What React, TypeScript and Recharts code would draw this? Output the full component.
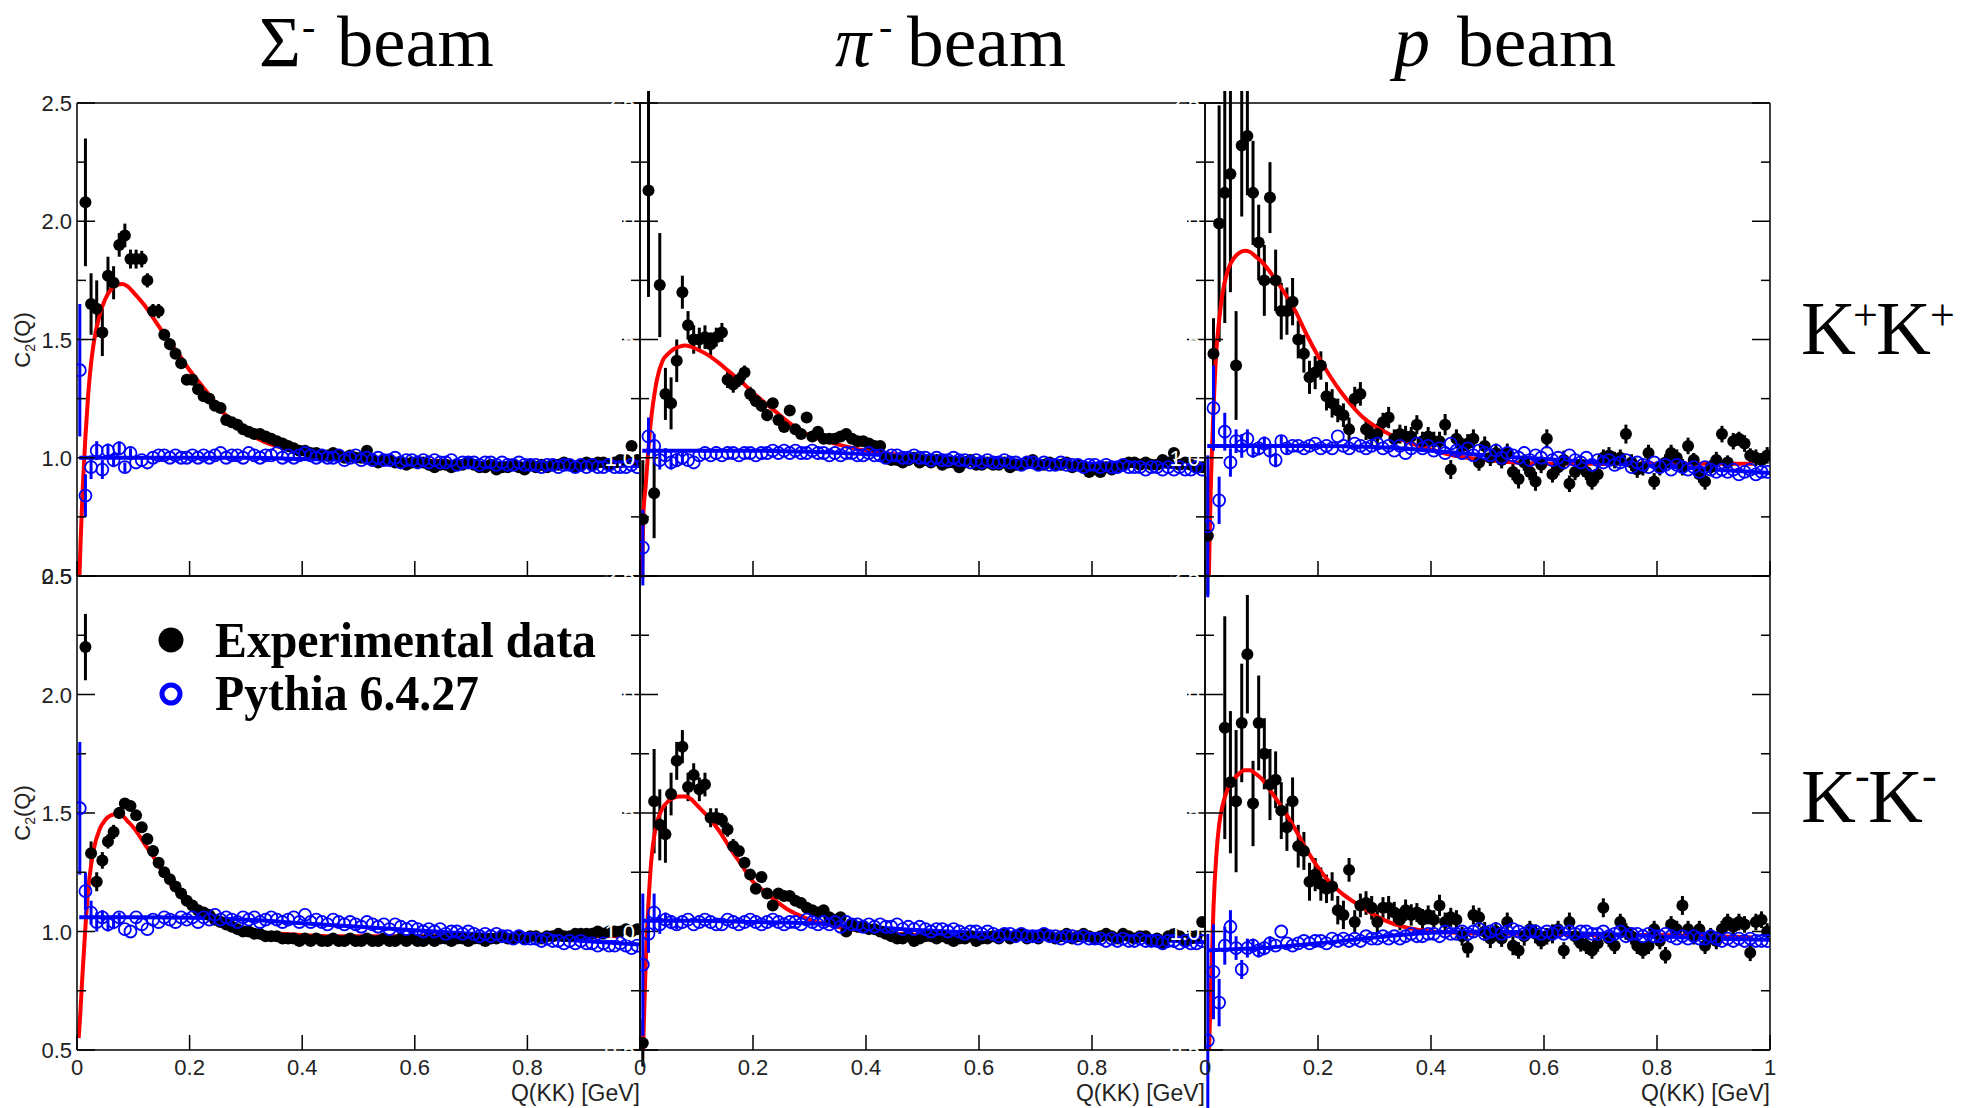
import React from "react";
import { ComposedChart, Scatter, Line, XAxis, YAxis, ErrorBar } from "recharts";

// centres of the 0.01 GeV bins
const BIN_Q = Array.from({ length: 100 }, (_, i) => (5 + 10 * i) / 1000);

const X_MAJOR = [0, 0.2, 0.4, 0.6, 0.8, 1];
const X_MINOR = [0.1, 0.3, 0.5, 0.7, 0.9];
const Y_MAJOR = [0.5, 1, 1.5, 2, 2.5];
const Y_MINOR = [0.75, 1.25, 1.75, 2.25];

// q values where the fitted curves were read
const FIT_Q = [0.003, 0.006, 0.01, 0.015, 0.02, 0.025, 0.03, 0.04, 0.05, 0.06, 0.07, 0.08, 0.09, 0.1, 0.12, 0.14, 0.16, 0.18, 0.2, 0.22, 0.24, 0.26, 0.28, 0.3, 0.33, 0.36, 0.4, 0.45, 0.5, 0.6, 0.7, 0.8, 0.9, 0.97];
const PYFIT_Q = [0.004, 0.05, 0.1, 0.2, 0.3, 0.4, 0.5, 0.6, 0.7, 0.8, 0.9, 1.0];

// ---- Sigma- beam, K+K+
const SIG_PP_DATA = [
  null, 2.08, 1.65, 1.63, 1.53, 1.77, 1.74, 1.90, 1.94, 1.84,
  1.84, 1.84, 1.75, 1.62, 1.62, 1.52, 1.48, 1.44, 1.40, 1.33,
  1.33, 1.29, 1.26, 1.25, 1.22, 1.21, 1.16, 1.15, 1.14, 1.12,
  1.11, 1.10, 1.10, 1.09, 1.08, 1.07, 1.06, 1.05, 1.04, 1.03,
  1.03, 1.02, 1.02, 1.01, 1.01, 1.02, 1.01, 1.00, 1.01, 1.00,
  1.00, 1.03, 0.99, 0.98, 0.99, 0.99, 0.98, 0.98, 0.97, 0.98,
  0.98, 0.98, 0.97, 0.96, 0.97, 0.97, 0.96, 0.97, 0.97, 0.98,
  0.97, 0.96, 0.96, 0.97, 0.95, 0.96, 0.96, 0.97, 0.96, 0.95,
  0.97, 0.96, 0.97, 0.96, 0.97, 0.97, 0.98, 0.97, 0.96, 0.97,
  0.98, 0.97, 0.98, 0.98, 0.97, 0.98, 0.99, 0.99, 1.05, 0.99,
];
const SIG_PP_DATA_ERR = [0, 0.27, 0.13, 0.12, 0.10, 0.08, 0.07, 0.05, 0.05, 0.04, 0.04, 0.035, 0.03, 0.03, 0.03, 0.025, 0.025, 0.02, 0.02, 0.02];
const SIG_PP_PYTHIA = [
  1.37, 0.84, 0.96, 1.03, 0.95, 1.03, 0.99, 1.04, 0.96, 1.02,
  0.98, 0.99, 0.98, 1.00, 1.01, 1.01, 1.00, 1.01, 1.00, 1.00,
  1.01, 1.00, 1.01, 1.00, 1.01, 1.02, 1.00, 1.01, 1.01, 1.00,
  1.02, 1.01, 1.00, 1.01, 1.01, 1.02, 1.00, 1.01, 1.00, 1.01,
  1.02, 1.01, 1.00, 1.01, 1.00, 1.00, 1.01, 0.99, 1.00, 1.01,
  0.99, 1.00, 0.99, 1.00, 0.99, 0.99, 1.00, 0.98, 0.99, 0.99,
  0.98, 0.99, 0.98, 0.99, 0.98, 0.98, 0.99, 0.97, 0.98, 0.98,
  0.98, 0.97, 0.98, 0.98, 0.97, 0.98, 0.97, 0.97, 0.98, 0.97,
  0.97, 0.97, 0.96, 0.97, 0.97, 0.96, 0.97, 0.97, 0.96, 0.97,
  0.96, 0.97, 0.96, 0.96, 0.97, 0.96, 0.96, 0.96, 0.97, 0.96,
];
const SIG_PP_PYTHIA_ERR = [0.28, 0.09, 0.05, 0.04, 0.04, 0.03, 0.03, 0.03, 0.02, 0.02];
const SIG_PP_FIT = [0.40, 0.62, 0.86, 1.09, 1.27, 1.40, 1.49, 1.60, 1.67, 1.71, 1.73, 1.735, 1.725, 1.70, 1.645, 1.575, 1.505, 1.44, 1.37, 1.31, 1.25, 1.19, 1.15, 1.11, 1.07, 1.045, 1.025, 1.01, 1.0, 0.99, 0.98, 0.975, 0.97, 0.965];
const SIG_PP_PYFIT = [1.0, 1.0, 1.0, 1.0, 1.0, 0.995, 0.99, 0.985, 0.98, 0.975, 0.97, 0.965];

// ---- pi- beam, K+K+
const PI_PP_DATA = [
  0.74, 2.13, 0.85, 1.73, 1.27, 1.23, 1.41, 1.70, 1.56, 1.50,
  1.50, 1.51, 1.48, 1.51, 1.53, 1.33, 1.31, 1.33, 1.36, 1.27,
  1.24, 1.22, 1.18, 1.23, 1.16, 1.13, 1.20, 1.12, 1.10, 1.17,
  1.09, 1.11, 1.08, 1.08, 1.08, 1.09, 1.10, 1.08, 1.07, 1.07,
  1.06, 1.05, 1.05, 1.00, 0.99, 0.99, 0.98, 0.99, 1.00, 0.98,
  0.99, 0.98, 0.99, 0.97, 0.98, 0.98, 0.96, 0.98, 0.99, 0.97,
  0.97, 0.98, 0.97, 0.97, 0.98, 0.96, 0.97, 0.97, 0.98, 0.99,
  0.97, 0.97, 0.98, 0.97, 0.97, 0.98, 0.96, 0.97, 0.96, 0.94,
  0.95, 0.94, 0.96, 0.95, 0.96, 0.97, 0.98, 0.98, 0.97, 0.98,
  0.97, 0.97, 0.99, 0.98, 1.02, 0.97, 0.98, 0.97, 0.96, 0.96,
];
const PI_PP_DATA_ERR = [0.25, 0.45, 0.19, 0.22, 0.11, 0.11, 0.09, 0.07, 0.06, 0.06, 0.05, 0.05, 0.05, 0.04, 0.04, 0.035, 0.035, 0.03, 0.03, 0.03, 0.025, 0.025, 0.025];
const PI_PP_PYTHIA = [
  0.62, 1.09, 1.05, 0.99, 1.01, 0.98, 0.99, 1.00, 0.99, 0.98,
  1.01, 1.02, 1.01, 1.02, 1.01, 1.02, 1.02, 1.01, 1.02, 1.02,
  1.01, 1.02, 1.02, 1.03, 1.02, 1.03, 1.02, 1.03, 1.02, 1.02,
  1.03, 1.02, 1.02, 1.01, 1.02, 1.01, 1.02, 1.02, 1.01, 1.01,
  1.02, 1.01, 1.01, 1.00, 1.01, 1.01, 1.00, 1.00, 1.01, 1.00,
  1.00, 0.99, 1.00, 0.99, 0.99, 1.00, 0.99, 0.99, 0.98, 0.99,
  0.98, 0.99, 0.98, 0.98, 0.99, 0.98, 0.98, 0.97, 0.98, 0.98,
  0.97, 0.98, 0.97, 0.97, 0.98, 0.97, 0.97, 0.97, 0.96, 0.97,
  0.97, 0.96, 0.97, 0.96, 0.96, 0.97, 0.96, 0.96, 0.96, 0.95,
  0.96, 0.96, 0.95, 0.96, 0.95, 0.96, 0.95, 0.95, 0.96, 0.95,
];
const PI_PP_PYTHIA_ERR = [0.16, 0.08, 0.05, 0.04, 0.03, 0.03, 0.03, 0.02];
const PI_PP_FIT = [0.45, 0.76, 0.88, 1.04, 1.17, 1.26, 1.33, 1.41, 1.44, 1.46, 1.47, 1.475, 1.47, 1.46, 1.435, 1.40, 1.36, 1.32, 1.275, 1.235, 1.195, 1.155, 1.12, 1.095, 1.07, 1.05, 1.03, 1.015, 1.005, 0.99, 0.98, 0.975, 0.97, 0.965];
const PI_PP_PYFIT = [1.03, 1.03, 1.03, 1.03, 1.025, 1.015, 1.005, 0.995, 0.985, 0.975, 0.965, 0.955];

// ---- p beam, K+K+
const P_PP_DATA = [
  0.67, 1.44, 1.99, 2.12, 2.20, 1.39, 2.32, 2.36, 2.12, 1.91,
  1.75, 2.10, 1.75, 1.62, 1.62, 1.66, 1.50, 1.44, 1.34, 1.36,
  1.39, 1.26, 1.23, 1.20, 1.18, 1.12, 1.25, 1.27, 1.12, 1.10,
  1.10, 1.15, 1.17, 1.08, 1.10, 1.09, 1.09, 1.14, 1.07, 1.09,
  1.07, 1.07, 1.14, 0.95, 1.08, 1.05, 1.06, 1.08, 0.98, 1.05,
  1.00, 1.02, 0.99, 1.02, 0.94, 0.91, 0.98, 0.94, 0.90, 0.97,
  1.08, 0.93, 0.96, 0.99, 0.89, 0.94, 0.97, 0.94, 0.90, 0.93,
  1.00, 1.01, 0.99, 1.00, 1.10, 0.98, 0.95, 0.96, 1.02, 0.90,
  0.96, 0.98, 1.02, 1.00, 0.96, 1.05, 0.99, 0.93, 0.90, 0.96,
  0.99, 1.10, 0.98, 1.07, 1.08, 1.06, 1.01, 1.00, 0.99, 1.01,
];
const P_PP_DATA_ERR = [
  0.25, 0.15, 0.50, 0.55, 0.50, 0.23, 0.30, 0.25, 0.22, 0.16,
  0.15, 0.15, 0.13, 0.12, 0.10, 0.10, 0.08, 0.08, 0.07, 0.07,
  0.06, 0.06, 0.06, 0.05, 0.05, 0.05, 0.05, 0.05, 0.045, 0.045,
  0.045, 0.04, 0.045, 0.04, 0.04, 0.045, 0.04, 0.04, 0.04, 0.04,
  0.04, 0.04, 0.045, 0.04, 0.04, 0.035, 0.04, 0.04, 0.035, 0.04,
  0.035, 0.04, 0.035, 0.04, 0.035, 0.04, 0.035, 0.035, 0.04, 0.035,
  0.04, 0.035, 0.035, 0.04, 0.035, 0.035, 0.035, 0.035, 0.035, 0.035,
  0.035, 0.035, 0.035, 0.035, 0.04, 0.035, 0.035, 0.035, 0.035, 0.035,
  0.035, 0.035, 0.035, 0.035, 0.035, 0.035, 0.03, 0.035, 0.035, 0.03,
  0.035, 0.035, 0.03, 0.035, 0.03, 0.035, 0.03, 0.035, 0.03, 0.035,
];
const P_PP_PYTHIA = [
  0.71, 1.21, 0.82, 1.11, 0.98, 1.07, 1.05, 1.08, 1.03, 1.04,
  1.06, 1.03, 0.99, 1.07, 1.04, 1.05, 1.05, 1.04, 1.05, 1.06,
  1.04, 1.05, 1.04, 1.09, 1.05, 1.04, 1.06, 1.05, 1.04, 1.05,
  1.06, 1.04, 1.05, 1.03, 1.05, 1.02, 1.04, 1.06, 1.04, 1.05,
  1.03, 1.04, 1.02, 1.06, 1.03, 1.02, 1.04, 1.01, 1.03, 1.02,
  1.01, 1.03, 1.00, 1.02, 1.01, 1.00, 1.02, 0.99, 1.01, 1.00,
  1.02, 0.99, 1.00, 0.98, 1.01, 0.99, 0.98, 1.00, 0.97, 0.99,
  0.98, 0.99, 0.97, 0.98, 0.99, 0.96, 0.98, 0.97, 0.96, 0.98,
  0.96, 0.97, 0.95, 0.97, 0.96, 0.95, 0.96, 0.94, 0.96, 0.95,
  0.94, 0.95, 0.94, 0.95, 0.93, 0.94, 0.95, 0.93, 0.94, 0.94,
];
const P_PP_PYTHIA_ERR = [0.3, 0.18, 0.1, 0.08, 0.06, 0.05, 0.05, 0.04, 0.03, 0.03, 0.03, 0.03, 0.03, 0.025, 0.025];
const P_PP_FIT = [0.10, 0.40, 0.85, 1.20, 1.45, 1.58, 1.68, 1.79, 1.84, 1.865, 1.875, 1.87, 1.85, 1.83, 1.77, 1.70, 1.62, 1.52, 1.43, 1.35, 1.28, 1.22, 1.17, 1.135, 1.095, 1.065, 1.035, 1.005, 0.99, 0.975, 0.975, 0.975, 0.975, 0.975];
const P_PP_PYFIT = [1.05, 1.05, 1.05, 1.05, 1.045, 1.03, 1.01, 0.995, 0.98, 0.965, 0.95, 0.935];

// ---- Sigma- beam, K-K-
const SIG_MM_DATA = [
  null, 2.20, 1.33, 1.21, 1.30, 1.38, 1.42, 1.50, 1.54, 1.53,
  1.49, 1.44, 1.39, 1.34, 1.29, 1.25, 1.22, 1.19, 1.16, 1.13,
  1.11, 1.09, 1.08, 1.07, 1.05, 1.04, 1.03, 1.02, 1.01, 1.00,
  1.00, 0.99, 0.99, 0.98, 0.98, 0.98, 0.97, 0.97, 0.97, 0.96,
  0.97, 0.96, 0.97, 0.96, 0.96, 0.97, 0.96, 0.96, 0.97, 0.96,
  0.96, 0.97, 0.96, 0.96, 0.97, 0.96, 0.96, 0.97, 0.96, 0.97,
  0.96, 0.96, 0.97, 0.96, 0.97, 0.97, 0.96, 0.97, 0.97, 0.96,
  0.97, 0.97, 0.96, 0.97, 0.97, 0.98, 0.97, 0.97, 0.98, 0.97,
  0.98, 0.98, 0.97, 0.98, 0.98, 0.99, 0.98, 0.98, 0.99, 0.99,
  0.99, 0.99, 1.00, 0.99, 1.00, 1.00, 1.00, 1.01, 1.00, 1.01,
];
const SIG_MM_DATA_ERR = [0, 0.14, 0.05, 0.04, 0.035, 0.03, 0.03, 0.025, 0.02, 0.02];
const SIG_MM_PYTHIA = [
  1.52, 1.17, 1.08, 1.04, 1.06, 1.03, 1.04, 1.06, 1.01, 1.00,
  1.06, 1.03, 1.01, 1.05, 1.04, 1.06, 1.05, 1.04, 1.06, 1.05,
  1.06, 1.04, 1.06, 1.05, 1.07, 1.05, 1.06, 1.05, 1.04, 1.06,
  1.05, 1.06, 1.04, 1.05, 1.06, 1.05, 1.04, 1.05, 1.06, 1.04,
  1.07, 1.04, 1.05, 1.04, 1.03, 1.05, 1.04, 1.03, 1.04, 1.03,
  1.02, 1.04, 1.03, 1.02, 1.03, 1.01, 1.03, 1.02, 1.01, 1.02,
  1.01, 1.00, 1.01, 1.00, 1.01, 0.99, 1.00, 1.00, 0.99, 1.00,
  0.99, 0.98, 0.99, 0.98, 0.99, 0.98, 0.98, 0.97, 0.98, 0.97,
  0.97, 0.97, 0.96, 0.97, 0.96, 0.96, 0.95, 0.96, 0.95, 0.96,
  0.95, 0.95, 0.94, 0.95, 0.94, 0.94, 0.95, 0.94, 0.93, 0.94,
];
const SIG_MM_PYTHIA_ERR = [0.28, 0.08, 0.05, 0.04, 0.03, 0.03, 0.03, 0.02];
const SIG_MM_FIT = [0.55, 0.66, 0.83, 1.02, 1.18, 1.28, 1.35, 1.43, 1.47, 1.49, 1.495, 1.49, 1.465, 1.44, 1.37, 1.30, 1.22, 1.16, 1.11, 1.075, 1.05, 1.03, 1.015, 1.005, 0.995, 0.99, 0.985, 0.98, 0.98, 0.98, 0.98, 0.98, 0.98, 0.98];
const SIG_MM_PYFIT = [1.06, 1.06, 1.06, 1.058, 1.05, 1.035, 1.02, 1.005, 0.99, 0.975, 0.96, 0.945];

// ---- pi- beam, K-K-
const PI_MM_DATA = [
  0.53, null, 1.55, 1.45, 1.41, 1.58, 1.72, 1.78, 1.61, 1.66,
  1.60, 1.62, 1.48, 1.48, 1.47, 1.43, 1.36, 1.34, 1.29, 1.24,
  1.18, 1.23, 1.16, 1.11, 1.16, 1.15, 1.15, 1.13, 1.12, 1.10,
  1.09, 1.08, 1.09, 1.06, 1.05, 1.06, 1.00, 1.03, 1.02, 1.02,
  1.01, 1.01, 1.00, 0.99, 0.98, 0.97, 0.97, 0.98, 0.96, 0.97,
  0.98, 0.98, 0.97, 0.98, 0.97, 0.96, 0.97, 0.97, 0.98, 0.96,
  0.97, 0.97, 0.98, 0.97, 0.99, 0.97, 0.98, 0.99, 0.97, 0.98,
  0.97, 0.99, 0.98, 0.97, 0.98, 0.99, 0.97, 0.98, 0.99, 0.98,
  0.97, 0.98, 0.99, 0.98, 0.97, 0.99, 0.98, 0.97, 0.98, 0.98,
  0.96, 0.97, 0.95, 0.98, 0.99, 0.98, 0.96, 0.97, 0.98, 1.04,
];
const PI_MM_DATA_ERR = [0.1, 0, 0.22, 0.15, 0.12, 0.09, 0.08, 0.07, 0.06, 0.05, 0.05, 0.05, 0.04, 0.04, 0.03, 0.03, 0.03];
const PI_MM_PYTHIA = [
  0.86, 0.99, 1.08, 1.03, 1.05, 1.04, 1.03, 1.04, 1.05, 1.03,
  1.04, 1.05, 1.04, 1.03, 1.03, 1.05, 1.04, 1.03, 1.04, 1.05,
  1.04, 1.03, 1.04, 1.05, 1.04, 1.03, 1.04, 1.04, 1.03, 1.05,
  1.04, 1.03, 1.04, 1.03, 1.04, 1.02, 1.04, 1.03, 1.03, 1.02,
  1.03, 1.02, 1.03, 1.02, 1.02, 1.03, 1.01, 1.02, 1.01, 1.02,
  1.01, 1.00, 1.01, 1.01, 1.00, 1.01, 1.00, 0.99, 1.00, 1.00,
  0.99, 1.00, 0.99, 0.98, 0.99, 0.99, 0.98, 0.99, 0.98, 0.98,
  0.98, 0.99, 0.98, 0.98, 0.97, 0.98, 0.98, 0.97, 0.98, 0.97,
  0.97, 0.97, 0.96, 0.97, 0.96, 0.97, 0.96, 0.96, 0.97, 0.96,
  0.96, 0.96, 0.95, 0.96, 0.96, 0.95, 0.96, 0.95, 0.95, 0.96,
];
const PI_MM_PYTHIA_ERR = [0.3, 0.08, 0.08, 0.04, 0.03, 0.03, 0.02];
const PI_MM_FIT = [0.25, 0.55, 0.86, 1.12, 1.30, 1.40, 1.46, 1.52, 1.55, 1.565, 1.57, 1.57, 1.56, 1.535, 1.485, 1.425, 1.35, 1.28, 1.21, 1.17, 1.13, 1.095, 1.07, 1.05, 1.03, 1.015, 1.0, 0.99, 0.985, 0.98, 0.98, 0.975, 0.975, 0.97];
const PI_MM_PYFIT = [1.045, 1.045, 1.045, 1.04, 1.035, 1.02, 1.005, 0.995, 0.985, 0.975, 0.965, 0.955];

// ---- p beam, K-K-
const P_MM_DATA = [
  null, null, null, 1.86, 1.63, 1.55, 1.88, 2.17, 1.54, 1.88,
  1.75, 1.62, 1.64, 1.51, 1.44, 1.55, 1.36, 1.34, 1.21, 1.24,
  1.20, 1.18, 1.19, 1.09, 1.07, 1.26, 1.04, 1.11, 1.12, 1.10,
  1.04, 1.10, 1.10, 1.08, 1.05, 1.09, 1.07, 1.08, 1.05, 1.07,
  1.05, 1.11, 1.04, 1.06, 1.05, 0.98, 0.93, 1.07, 1.06, 1.00,
  0.97, 1.00, 0.97, 1.04, 0.94, 0.92, 0.98, 1.01, 0.99, 0.96,
  0.98, 0.99, 1.01, 0.92, 1.04, 0.98, 0.95, 0.94, 0.92, 0.95,
  1.10, 0.97, 0.94, 1.04, 1.00, 0.98, 0.94, 0.92, 0.94, 1.01,
  0.96, 0.90, 1.03, 1.01, 1.11, 1.01, 0.98, 1.01, 0.94, 0.98,
  0.96, 1.01, 1.04, 1.02, 1.04, 1.03, 0.91, 1.04, 1.05, 1.00,
];
const P_MM_DATA_ERR = [
  0, 0, 0, 0.47, 0.30, 0.30, 0.25, 0.25, 0.18, 0.20,
  0.15, 0.15, 0.12, 0.12, 0.10, 0.10, 0.09, 0.08, 0.08, 0.07,
  0.07, 0.06, 0.06, 0.06, 0.06, 0.05, 0.05, 0.05, 0.05, 0.05,
  0.05, 0.045, 0.05, 0.045, 0.045, 0.045, 0.045, 0.04, 0.045, 0.04,
  0.04, 0.045, 0.04, 0.04, 0.04, 0.04, 0.04, 0.04, 0.04, 0.04,
  0.04, 0.04, 0.035, 0.04, 0.04, 0.035, 0.04, 0.035, 0.04, 0.035,
  0.035, 0.04, 0.035, 0.035, 0.04, 0.035, 0.035, 0.035, 0.035, 0.035,
  0.04, 0.035, 0.035, 0.035, 0.035, 0.035, 0.035, 0.035, 0.035, 0.035,
  0.035, 0.035, 0.035, 0.035, 0.04, 0.035, 0.035, 0.035, 0.035, 0.035,
  0.035, 0.035, 0.035, 0.035, 0.035, 0.035, 0.035, 0.035, 0.035, 0.035,
];
const P_MM_PYTHIA = [
  0.54, 0.83, 0.70, 0.94, 1.02, 0.93, 0.84, 0.93, 0.94, 0.92,
  0.93, 0.95, 0.94, 1.00, 0.95, 0.94, 0.95, 0.96, 0.95, 0.96,
  0.96, 0.95, 0.97, 0.96, 0.97, 0.96, 0.97, 0.96, 0.98, 0.97,
  0.97, 0.98, 0.97, 0.98, 0.97, 0.98, 0.99, 0.98, 0.98, 0.99,
  0.99, 0.98, 1.00, 0.99, 0.99, 1.00, 0.99, 1.00, 1.01, 0.99,
  1.00, 1.01, 0.99, 1.00, 1.01, 1.00, 0.99, 1.00, 1.00, 0.99,
  1.00, 0.99, 1.00, 0.99, 1.00, 0.99, 1.00, 1.00, 0.99, 0.99,
  1.00, 0.98, 0.99, 1.00, 0.98, 0.99, 0.99, 0.98, 0.99, 0.98,
  0.98, 0.99, 0.98, 0.97, 0.98, 0.97, 0.98, 0.97, 0.97, 0.98,
  0.97, 0.96, 0.97, 0.96, 0.97, 0.96, 0.97, 0.96, 0.96, 0.96,
];
const P_MM_PYTHIA_ERR = [0.45, 0.2, 0.1, 0.08, 0.07, 0.05, 0.04, 0.04, 0.03, 0.03, 0.03, 0.03];
const P_MM_FIT = [0.05, 0.40, 0.72, 1.10, 1.32, 1.45, 1.52, 1.60, 1.64, 1.665, 1.68, 1.68, 1.665, 1.645, 1.58, 1.51, 1.43, 1.345, 1.27, 1.21, 1.165, 1.13, 1.10, 1.07, 1.035, 1.015, 1.0, 0.995, 0.99, 0.99, 0.985, 0.985, 0.98, 0.975];
const P_MM_PYFIT = [0.92, 0.925, 0.93, 0.95, 0.975, 0.995, 1.0, 0.995, 0.99, 0.98, 0.97, 0.965];

type PanelDef = {
  col: number;
  row: number;
  data: (number | null)[];
  dataErr: number[];
  pythia: (number | null)[];
  pythiaErr: number[];
  fit: number[];
  pyFit: number[];
};

const PANELS: PanelDef[] = [
  { col: 0, row: 0, data: SIG_PP_DATA, dataErr: SIG_PP_DATA_ERR, pythia: SIG_PP_PYTHIA, pythiaErr: SIG_PP_PYTHIA_ERR, fit: SIG_PP_FIT, pyFit: SIG_PP_PYFIT },
  { col: 1, row: 0, data: PI_PP_DATA, dataErr: PI_PP_DATA_ERR, pythia: PI_PP_PYTHIA, pythiaErr: PI_PP_PYTHIA_ERR, fit: PI_PP_FIT, pyFit: PI_PP_PYFIT },
  { col: 2, row: 0, data: P_PP_DATA, dataErr: P_PP_DATA_ERR, pythia: P_PP_PYTHIA, pythiaErr: P_PP_PYTHIA_ERR, fit: P_PP_FIT, pyFit: P_PP_PYFIT },
  { col: 0, row: 1, data: SIG_MM_DATA, dataErr: SIG_MM_DATA_ERR, pythia: SIG_MM_PYTHIA, pythiaErr: SIG_MM_PYTHIA_ERR, fit: SIG_MM_FIT, pyFit: SIG_MM_PYFIT },
  { col: 1, row: 1, data: PI_MM_DATA, dataErr: PI_MM_DATA_ERR, pythia: PI_MM_PYTHIA, pythiaErr: PI_MM_PYTHIA_ERR, fit: PI_MM_FIT, pyFit: PI_MM_PYFIT },
  { col: 2, row: 1, data: P_MM_DATA, dataErr: P_MM_DATA_ERR, pythia: P_MM_PYTHIA, pythiaErr: P_MM_PYTHIA_ERR, fit: P_MM_FIT, pyFit: P_MM_PYFIT },
];

const COL_X = [77, 640, 1205, 1770];
const ROW_Y = [103, 576, 1050];
const ML = 77;
const MR = 12;
const MT = 12;
const MB = 58;
const THIN = 0.01; // axes keep (almost) no room of their own
const SANS = "'Liberation Sans', Arial, Helvetica, sans-serif";
const SERIF = "'Liberation Serif', 'Times New Roman', serif";
const LABEL = "#222";

const toPoints = (vals: (number | null)[], errs: number[]) =>
  vals.map((v, i) => ({ q: BIN_Q[i], v, e: errs[i] ?? 0 })).filter((d) => d.v !== null);
const toCurve = (qs: number[], vals: number[]) => qs.map((q, i) => ({ q, v: vals[i] }));

const blackDot = (p: any) => <circle cx={p.cx} cy={p.cy} r={6} fill="#000" />;
const blueRing = (p: any) => (
  <circle cx={p.cx} cy={p.cy} r={6} fill="none" stroke="#0000ff" strokeWidth={1.8} />
);
const noTick = () => <g />;
const fmtX = (v: number) => (v === 0 ? "0" : v === 1 ? "1" : v.toFixed(1));

function C2Panel({ p }: { p: PanelDef }) {
  const left = COL_X[p.col];
  const top = ROW_Y[p.row];
  const w = COL_X[p.col + 1] - left;
  const h = ROW_Y[p.row + 1] - top;
  const labelled = p.row === 1 ? (p.col === 2 ? X_MAJOR : X_MAJOR.slice(0, 5)) : [];
  // ROOT drew the inner pads' y labels in white
  const yFill = p.col === 0 ? LABEL : "#fff";
  const frame = { stroke: "#000", strokeWidth: 1.5 };

  const xTick = (t: any) =>
    labelled.includes(t.payload.value) ? (
      <text x={t.x} y={MT + h + 25} textAnchor="middle" fontSize={22} fontFamily={SANS} fill={LABEL}>
        {fmtX(t.payload.value)}
      </text>
    ) : (
      <g />
    );
  const yTick = (t: any) => (
    <text x={ML - 5} y={t.y} dy={8} textAnchor="end" fontSize={22} fontFamily={SANS} fill={yFill}>
      {Number(t.payload.value).toFixed(1)}
    </text>
  );

  const black = toPoints(p.data, p.dataErr);
  const blue = toPoints(p.pythia, p.pythiaErr);
  const fit = toCurve(FIT_Q, p.fit);
  const pyFit = toCurve(PYFIT_Q, p.pyFit);

  return (
    <div style={{ position: "absolute", left: left - ML, top: top - MT }}>
      <ComposedChart width={w + ML + MR} height={h + MT + MB} margin={{ top: MT, right: MR, bottom: MB, left: ML }}>
        <XAxis xAxisId="b" type="number" dataKey="q" domain={[0, 1]} allowDataOverflow ticks={X_MAJOR} interval={0}
          mirror height={THIN} tickSize={15} tick={xTick} axisLine={frame} tickLine={frame} />
        <XAxis xAxisId="bm" type="number" domain={[0, 1]} allowDataOverflow ticks={X_MINOR} interval={0}
          mirror height={THIN} tickSize={9} tick={noTick} axisLine={false} tickLine={frame} />
        <XAxis xAxisId="t" orientation="top" type="number" domain={[0, 1]} allowDataOverflow ticks={X_MAJOR} interval={0}
          mirror height={THIN} tickSize={15} tick={noTick} axisLine={frame} tickLine={frame} />
        <XAxis xAxisId="tm" orientation="top" type="number" domain={[0, 1]} allowDataOverflow ticks={X_MINOR} interval={0}
          mirror height={THIN} tickSize={9} tick={noTick} axisLine={false} tickLine={frame} />
        <YAxis yAxisId="l" type="number" dataKey="v" domain={[0.5, 2.5]} allowDataOverflow ticks={Y_MAJOR} interval={0}
          mirror width={THIN} tickSize={18} tick={yTick} axisLine={frame} tickLine={frame} />
        <YAxis yAxisId="lm" type="number" domain={[0.5, 2.5]} allowDataOverflow ticks={Y_MINOR} interval={0}
          mirror width={THIN} tickSize={9} tick={noTick} axisLine={false} tickLine={frame} />
        <YAxis yAxisId="r" orientation="right" type="number" domain={[0.5, 2.5]} allowDataOverflow ticks={Y_MAJOR} interval={0}
          mirror width={THIN} tickSize={18} tick={noTick} axisLine={frame} tickLine={frame} />
        <YAxis yAxisId="rm" orientation="right" type="number" domain={[0.5, 2.5]} allowDataOverflow ticks={Y_MINOR} interval={0}
          mirror width={THIN} tickSize={9} tick={noTick} axisLine={false} tickLine={frame} />

        <Scatter xAxisId="b" yAxisId="l" data={black} dataKey="v" shape={blackDot} isAnimationActive={false}>
          <ErrorBar dataKey="e" direction="y" width={0} stroke="#000" strokeWidth={3} isAnimationActive={false} />
        </Scatter>
        <Line xAxisId="b" yAxisId="l" data={fit} dataKey="v" type="monotone" stroke="#ff0000" strokeWidth={4}
          dot={false} activeDot={false} isAnimationActive={false} />
        <Scatter xAxisId="b" yAxisId="l" data={blue} dataKey="v" shape={blueRing} isAnimationActive={false}>
          <ErrorBar dataKey="e" direction="y" width={0} stroke="#0000ff" strokeWidth={3} isAnimationActive={false} />
        </Scatter>
        <Line xAxisId="b" yAxisId="l" data={pyFit} dataKey="v" type="monotone" stroke="#0000ff" strokeWidth={4}
          dot={false} activeDot={false} isAnimationActive={false} />
      </ComposedChart>
    </div>
  );
}

function Overlay() {
  const big = { fontFamily: SERIF, fontSize: 72, fill: "#000" };
  const sup = { fontFamily: SERIF, fontSize: 40, fill: "#000" };
  return (
    <svg width={1961} height={1108} style={{ position: "absolute", left: 0, top: 0, pointerEvents: "none" }}>
      {/* column titles */}
      <text x={259} y={66} {...big}>Σ</text>
      <text x={302} y={40} {...sup}>-</text>
      <text x={337} y={66} {...big} textLength={157} lengthAdjust="spacingAndGlyphs">beam</text>
      <text x={835} y={66} {...big} fontStyle="italic">π</text>
      <text x={879} y={40} {...sup}>-</text>
      <text x={907} y={66} {...big} textLength={159} lengthAdjust="spacingAndGlyphs">beam</text>
      <text x={1394} y={66} {...big} fontStyle="italic">p</text>
      <text x={1457} y={66} {...big} textLength={159} lengthAdjust="spacingAndGlyphs">beam</text>

      {/* row labels */}
      <text x={1801} y={354} fontFamily={SERIF} fontSize={76}>K</text>
      <text x={1853} y={330} fontFamily={SERIF} fontSize={44}>+</text>
      <text x={1876} y={354} fontFamily={SERIF} fontSize={76}>K</text>
      <text x={1930} y={330} fontFamily={SERIF} fontSize={44}>+</text>
      <text x={1801} y={822} fontFamily={SERIF} fontSize={76}>K</text>
      <text x={1855} y={790} fontFamily={SERIF} fontSize={44}>-</text>
      <text x={1868} y={822} fontFamily={SERIF} fontSize={76}>K</text>
      <text x={1922} y={790} fontFamily={SERIF} fontSize={44}>-</text>

      {/* y-axis titles */}
      {[340, 813].map((cy) => (
        <text key={cy} transform={`translate(30 ${cy}) rotate(-90)`} textAnchor="middle" fontFamily={SANS} fontSize={22} fill={LABEL}>
          C<tspan fontSize={14} dy={5}>2</tspan>
          <tspan dy={-5}>(Q)</tspan>
        </text>
      ))}

      {/* x-axis titles */}
      {[640, 1205, 1770].map((x) => (
        <text key={x} x={x} y={1101} textAnchor="end" fontFamily={SANS} fontSize={23} fill={LABEL}>
          Q(KK) [GeV]
        </text>
      ))}

      {/* legend */}
      <circle cx={171} cy={640} r={12.5} fill="#000" />
      <circle cx={171} cy={694} r={9} fill="none" stroke="#0000ff" strokeWidth={5} />
      <text x={215} y={657} fontFamily={SERIF} fontWeight="bold" fontSize={50} textLength={381} lengthAdjust="spacingAndGlyphs">
        Experimental data
      </text>
      <text x={215} y={710} fontFamily={SERIF} fontWeight="bold" fontSize={50} textLength={264} lengthAdjust="spacingAndGlyphs">
        Pythia 6.4.27
      </text>
    </svg>
  );
}

export default function App() {
  return (
    <div style={{ position: "absolute", left: 0, top: 0, width: 1961, height: 1108, overflow: "hidden", background: "#fff" }}>
      {PANELS.map((p) => (
        <C2Panel key={`${p.col}-${p.row}`} p={p} />
      ))}
      <Overlay />
    </div>
  );
}
